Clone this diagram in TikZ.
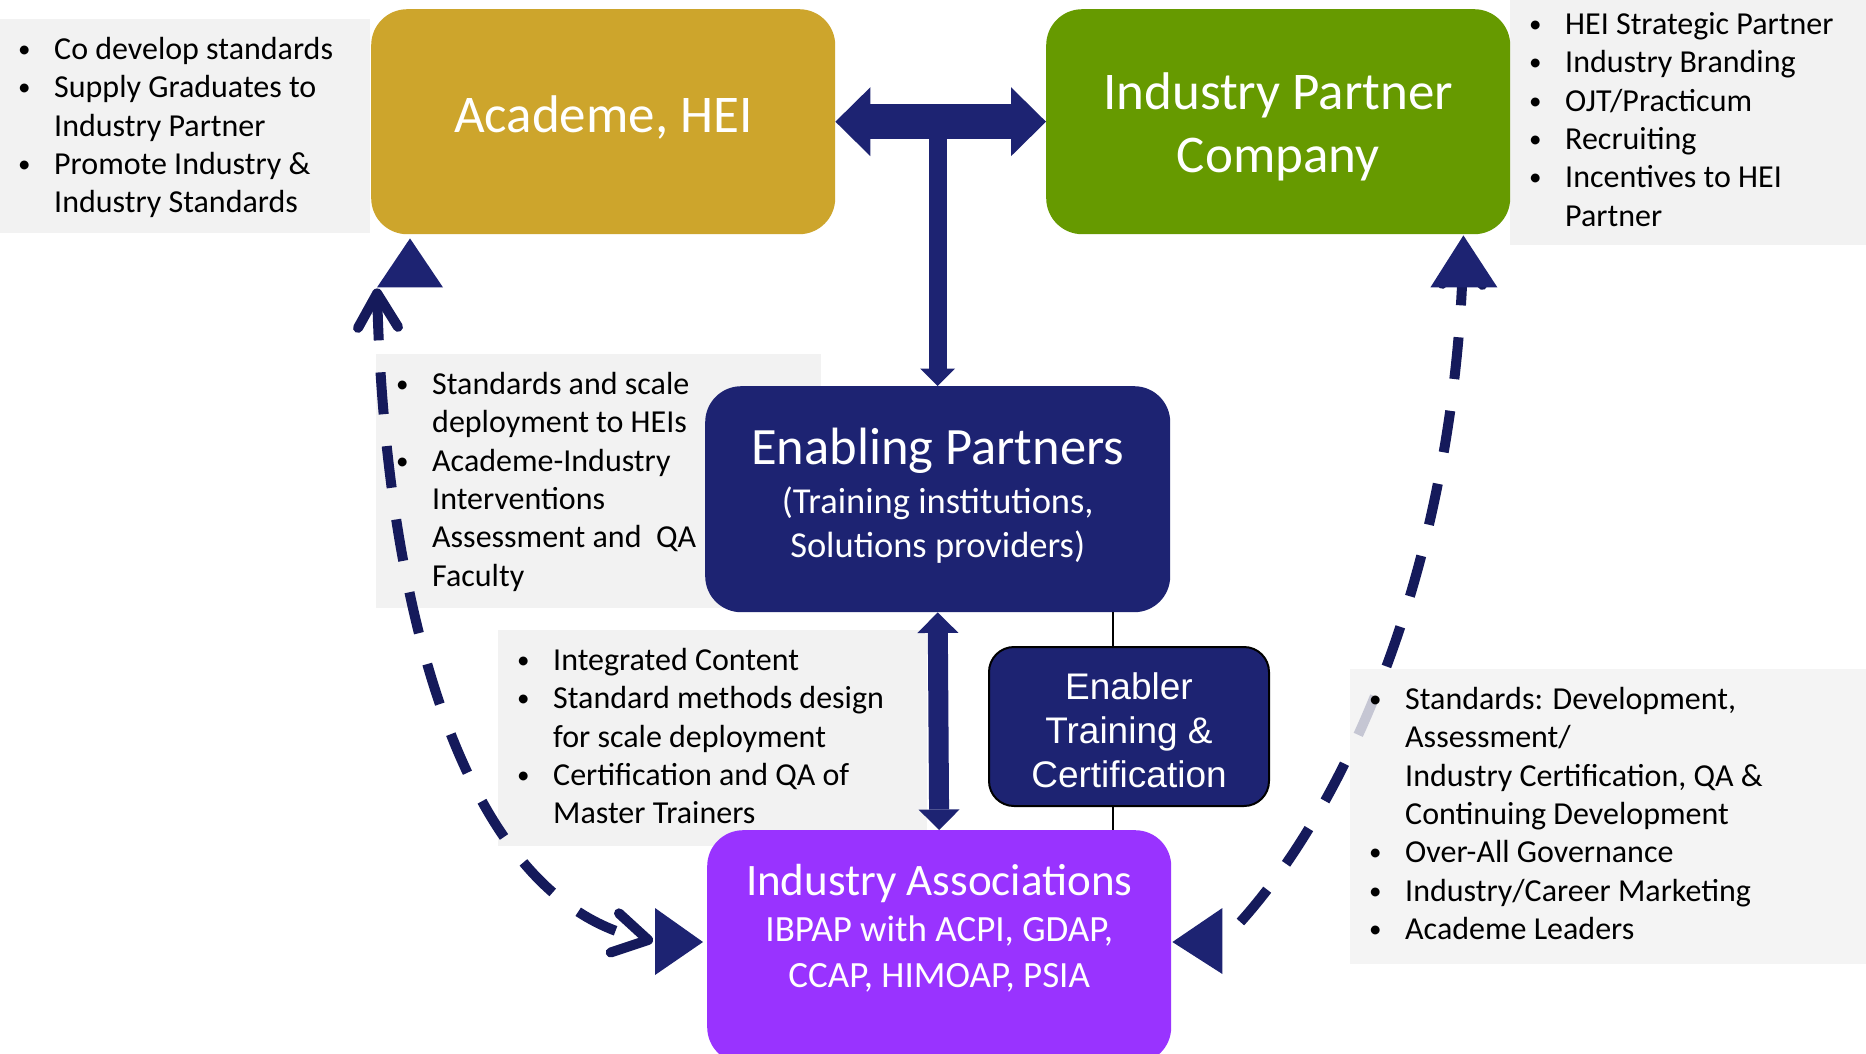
\documentclass[tikz,border=0pt]{standalone}
\usepackage{fontspec}
\setmainfont{Carlito}
\newfontfamily\arialfont{Liberation Sans}
\usepackage{tikz}
\usetikzlibrary{arrows.meta, positioning, calc}
\definecolor{heigold}{HTML}{CDA52C}
\definecolor{partnergreen}{HTML}{669A00}
\definecolor{enablernavy}{HTML}{1D2372}
\definecolor{assocpurple}{HTML}{9933FF}
\definecolor{dashnavy}{HTML}{151A5B}
\definecolor{notegray}{HTML}{F2F2F2}

\newcommand{\bul}{\makebox[37pt][l]{\hspace{1pt}\raisebox{2pt}{\fontsize{25}{25}\selectfont\textbullet}}}
\newcommand{\cont}{\hspace*{37pt}}
\newcommand{\firstline}{\rule{0pt}{26pt}}

\begin{document}
\begin{tikzpicture}[x=1pt, y=-1pt,
    titlebox/.style={anchor=north west, rounded corners=36pt, inner sep=0pt, text=white, align=center},
    notebg/.style={anchor=north west, fill=notegray, inner sep=0pt},
    notelist/.style={anchor=north west, inner sep=0pt, align=left, font=\fontsize{32}{38.4}\selectfont},
    dashlink/.style={dashnavy, line width=10pt, dash pattern=on 42pt off 32pt},
    barb/.tip={Straight Barb[length=34pt, width=40pt, round]},
    bighead/.tip={Triangle[length=35pt, width=69pt, line width=0pt]},
    tophead/.tip={Triangle[length=17.5pt, width=35pt, line width=0pt]},
    midhead/.tip={Triangle[length=20.5pt, width=41pt, line width=0pt]}]
    \path[use as bounding box, fill=white] (0,0) rectangle (1866,1053);
    \clip (0,0) rectangle (1866,1053);

    % gray notes
    \node[notebg, minimum width=370pt, minimum height=214pt] (heinote) at (0,19) {};
    \node[notebg, minimum width=356pt, minimum height=245pt] (partnernote) at (1510,0) {};
    \node[notebg, minimum width=445pt, minimum height=254pt] (scalenote) at (376,354) {};
    \node[notebg, minimum width=429pt, minimum height=216pt] (contentnote) at (498,630) {};

    % boxes
    \node[titlebox, fill=heigold, minimum width=464pt, minimum height=225pt, text depth=16pt,
          font=\fontsize{53}{63}\selectfont] (academe) at (371,9) {Academe, HEI};
    \node[titlebox, fill=partnergreen, minimum width=464pt, minimum height=225pt,
          font=\fontsize{53}{63}\selectfont] (industry) at (1046,9) {\rule{0pt}{48pt}Industry Partner\\Company};
    \node[titlebox, fill=assocpurple, minimum width=464pt, minimum height=233pt] (assoc) at (707,830) {};

    % dashed link on the right, under the governance note
    \coordinate (partnerend) at ($(industry.south east)+(-47,11)$);
    \coordinate (assocright) at ($(assoc.north east)+(69,92)$);
    \draw[dashlink, -{barb}] (assocright) .. controls (1350,800) and (1455,560) .. (partnerend);
    \node[notebg, fill opacity=0.8, minimum width=516pt, minimum height=295pt] (governnote) at (1350,669) {};

    % note texts
    \node[notelist] (heilist) at (17,33) {\firstline\bul Co develop standards\\
        \bul Supply Graduates to\\ \cont Industry Partner\\
        \bul Promote Industry \&\\ \cont Industry Standards};
    \node[notelist] (partnerlist) at (1528,8) {\firstline\bul HEI Strategic Partner\\
        \bul Industry Branding\\ \bul OJT/Practicum\\ \bul Recruiting\\
        \bul Incentives to HEI\\ \cont Partner};
    \node[notelist] (scalelist) at (395,368) {\firstline\bul Standards and scale\\
        \cont deployment to HEIs\\ \bul Academe-Industry\\ \cont Interventions\\
        \cont Assessment and~ QA\\ \cont Faculty};
    \node[notelist] (contentlist) at (516,644) {\firstline\bul Integrated Content\\
        \bul Standard methods design\\ \cont for scale deployment\\
        \bul Certification and QA of\\ \cont Master Trainers};
    \node[notelist] (governlist) at (1368,683) {\firstline\bul Standards: Development,\\
        \cont Assessment/\\ \cont Industry Certification, QA \&\\ \cont Continuing Development\\
        \bul Over-All Governance\\ \bul Industry/Career Marketing\\ \bul Academe Leaders};

    \node[titlebox, fill=enablernavy, minimum width=465pt, minimum height=226pt,
          font=\fontsize{36.5}{44}\selectfont] (enabling) at (705,386)
          {{\fontsize{52.5}{62}\selectfont Enabling Partners}\\[5pt](Training institutions,\\Solutions providers)\rule[-12pt]{0pt}{0pt}};
    \node[text=white, align=center, font=\fontsize{37}{46}\selectfont, anchor=north]
          (assoctext) at ($(assoc.north)+(0,31)$)
          {{\fontsize{45}{54}\selectfont Industry Associations}\\IBPAP with ACPI, GDAP,\\CCAP, HIMOAP, PSIA};

    % enabler on the thin line
    \coordinate (cutline) at ($(enabling.south west)+(408,0)$);
    \draw[line width=1.5pt] (cutline) -- (cutline |- assoc.north);
    \node[titlebox, fill=enablernavy, draw=black, line width=2pt, rounded corners=25pt,
          minimum width=280pt, minimum height=159pt,
          font=\arialfont\fontsize{37}{44}\selectfont] (enabler) at (988,646)
          {\rule{0pt}{35pt}Enabler\\Training \&\\Certification};

    % block arrows
    \draw[enablernavy, line width=35pt, {bighead}-{bighead}] (academe.east) -- (industry.west);
    \draw[enablernavy, line width=18pt, -{tophead}] (enabling.north |- academe.east) -- (enabling.north);
    \draw[enablernavy, line width=20pt, {midhead}-{midhead}] (enabling.south) -- (assoc.north);

    % triangles at the box edges
    \fill[enablernavy] ($(academe.south west)+(39,4)$) -- ++(-33,49) -- ++(66,0) -- cycle;
    \fill[enablernavy] ($(industry.south east)+(-47,1)$) -- ++(-33,52) -- ++(67,0) -- cycle;
    \fill[enablernavy] ($(assoc.north west)+(-4,112)$) -- ++(-48,-34) -- ++(0,67) -- cycle;
    \fill[enablernavy] ($(assoc.north east)+(1,112)$) -- ++(50,-34) -- ++(0,66) -- cycle;

    % dashed link on the left
    \coordinate (heiend) at ($(academe.south west)+(6,54)$);
    \coordinate (assocleft) at ($(assoc.north west)+(-54,111)$);
    \draw[dashlink, {barb}-{barb}] (heiend) .. controls (385,600) and (460,900) .. (assocleft);
\end{tikzpicture}
\end{document}
